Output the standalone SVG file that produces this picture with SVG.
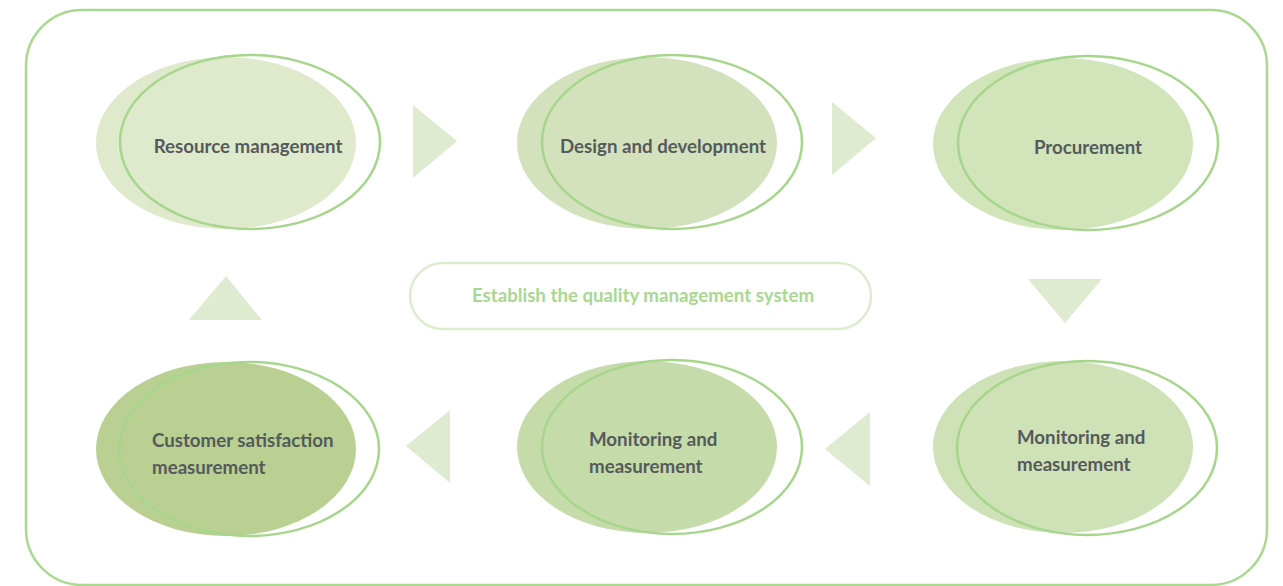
<svg xmlns="http://www.w3.org/2000/svg" width="1283" height="586" viewBox="0 0 1283 586">
<style>
.frame{fill:#fff;stroke:#a9d98f;stroke-width:2.5}
.ring{fill:none;stroke:#a6d68c;stroke-width:2.5}
.tri{fill:#dfebd0}
.lbl{font-family:Lato,"Liberation Sans",sans-serif;font-weight:bold;font-size:18.7px;fill:#555a5c}
.pill{fill:#fff;stroke:#dcecce;stroke-width:2.5}
.ptxt{font-family:Lato,"Liberation Sans",sans-serif;font-weight:bold;font-size:18.7px;fill:#a8d890}
</style>
<rect class="frame" x="26" y="10" width="1241" height="575" rx="56"/>
<g id="connectors">
<polygon class="tri" points="413,105 457,141 413,178"/>
<polygon class="tri" points="832,102 876,138 832,175"/>
<polygon class="tri" points="1028,279 1102,279 1065,323"/>
<polygon class="tri" points="870,412 870,486 825,449"/>
<polygon class="tri" points="450,410 450,483 406,446"/>
<polygon class="tri" points="189,320 262,320 226,276"/>
</g>
<g id="center">
<rect class="pill" x="410" y="263" width="461" height="66" rx="33"/>
<text class="ptxt" x="643" y="302" text-anchor="middle">Establish the quality management system</text>
</g>
<g id="n1">
<ellipse cx="226" cy="143" rx="130" ry="86" fill="#dfeacd"/>
<ellipse class="ring" cx="250" cy="142" rx="130" ry="87"/>
<text class="lbl" x="248" y="153" text-anchor="middle">Resource management</text>
</g>
<g id="n2">
<ellipse cx="647" cy="143" rx="130" ry="86" fill="#d3e2bc"/>
<ellipse class="ring" cx="672" cy="142" rx="130" ry="87"/>
<text class="lbl" x="663" y="153" text-anchor="middle">Design and development</text>
</g>
<g id="n3">
<ellipse cx="1063" cy="144" rx="130" ry="86" fill="#d2e4ba"/>
<ellipse class="ring" cx="1088" cy="143" rx="130" ry="87"/>
<text class="lbl" x="1088" y="154" text-anchor="middle">Procurement</text>
</g>
<g id="n4">
<ellipse cx="1063" cy="447" rx="130" ry="86" fill="#cfe1b6"/>
<ellipse class="ring" cx="1087" cy="448" rx="130" ry="87"/>
<text class="lbl" x="1017" y="444">Monitoring and</text>
<text class="lbl" x="1017" y="471">measurement</text>
</g>
<g id="n5">
<ellipse cx="647" cy="447" rx="130" ry="86" fill="#c5dba9"/>
<ellipse class="ring" cx="672" cy="447" rx="130" ry="87"/>
<text class="lbl" x="589" y="446">Monitoring and</text>
<text class="lbl" x="589" y="473">measurement</text>
</g>
<g id="n6">
<ellipse cx="226" cy="449" rx="130" ry="87" fill="#b9d092"/>
<ellipse class="ring" cx="249" cy="449" rx="130" ry="87"/>
<text class="lbl" x="152" y="447">Customer satisfaction</text>
<text class="lbl" x="152" y="474">measurement</text>
</g>
</svg>
